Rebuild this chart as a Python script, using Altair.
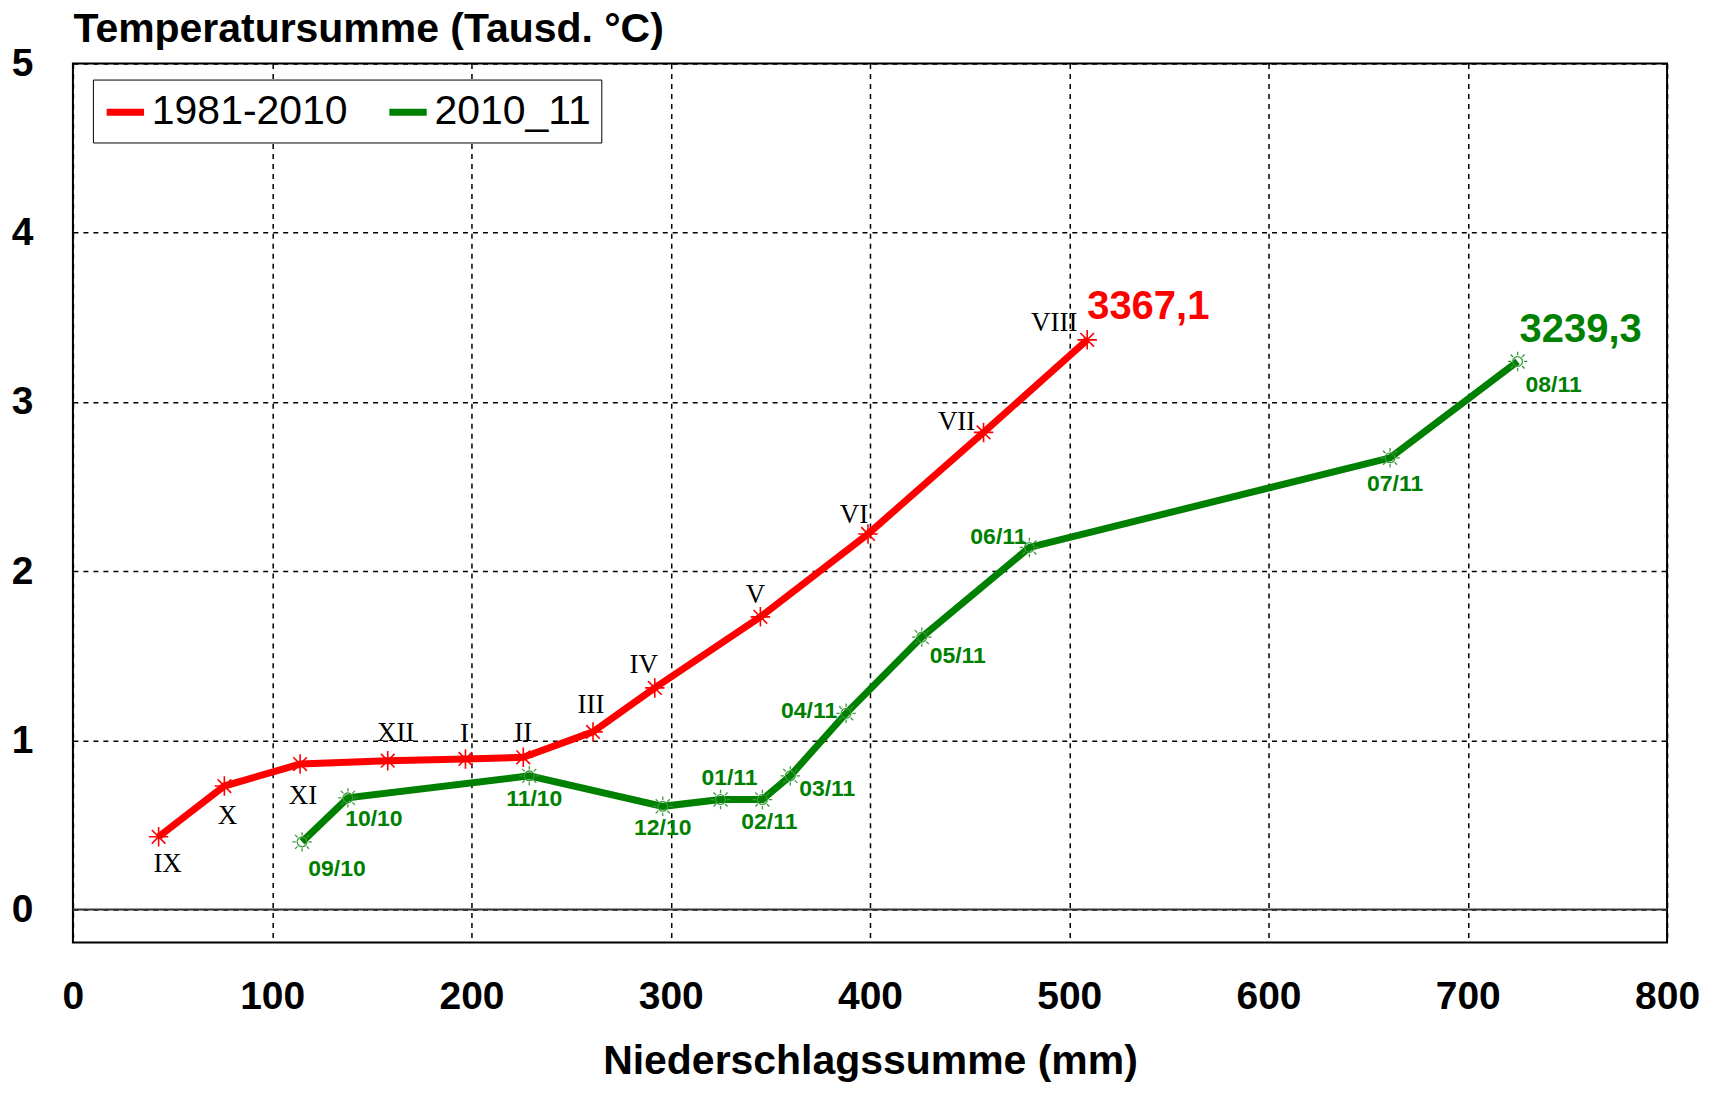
import altair as alt
import pandas as pd

# ---- data ----
months = ["IX", "X", "XI", "XII", "I", "II", "III", "IV", "V", "VI", "VII", "VIII"]
red_x = [43, 76, 114, 158, 197, 226, 261, 292, 345, 399, 457, 509]
red_y = [0.43, 0.73, 0.86, 0.88, 0.89, 0.90, 1.05, 1.31, 1.73, 2.22, 2.82, 3.3671]

periods = ["09/10", "10/10", "11/10", "12/10", "01/11", "02/11", "03/11", "04/11",
           "05/11", "06/11", "07/11", "08/11"]
green_x = [115, 138, 229, 296, 325, 346, 360, 388, 426, 480, 661, 725]
green_y = [0.40, 0.66, 0.79, 0.61, 0.65, 0.65, 0.79, 1.16, 1.61, 2.14, 2.67, 3.2393]

series_names = ["1981-2010", "2010_11"]
totals = ["3367,1", "3239,3"]
x_ticks = [0, 100, 200, 300, 400, 500, 600, 700, 800]
y_ticks = [0, 1, 2, 3, 4, 5]

# label offsets in pixels (layout only)
red_dx = [9, 3, 3, 8, -1, 0, -2, -11, -5, -14, -27, -33]
red_dy = [27, 30, 32, -28, -25, -24, -27, -23, -22, -19, -10, -17]
green_dx = [35, 26, 5, 0, 9, 7, 37, -37, 36, -31, 5, 36]
green_dy = [27, 21, 23, 22, -22, 22, 13, -2, 19, -10, 26, 24]
total_dx = [0, 2]
total_dy = [-33, -31]

RED = "#ff0000"
GREEN = "#008000"

red = pd.DataFrame({"x": red_x, "y": red_y, "label": months, "series": series_names[0]})
green = pd.DataFrame({"x": green_x, "y": green_y, "label": periods, "series": series_names[1]})
both = pd.concat([red, green], ignore_index=True)

xs = alt.Scale(domain=[0, 800], nice=False, zero=False)
ys = alt.Scale(domain=[-0.195, 5], nice=False, zero=False)
color = alt.Color("series:N", scale=alt.Scale(domain=series_names, range=[RED, GREEN]),
                  legend=alt.Legend(title=None, orient="none", legendX=20, legendY=16,
                                    direction="horizontal", symbolType="stroke",
                                    symbolStrokeWidth=7, symbolSize=1400,
                                    labelFontSize=41, labelFont="Liberation Sans",
                                    labelColor="black", strokeColor="black",
                                    fillColor="white", padding=10, columnPadding=26,
                                    labelOffset=4, cornerRadius=0, labelLimit=400))

xax = alt.Axis(values=x_ticks, grid=True, gridDash=[5, 5], gridColor="black", gridWidth=1.5,
               domain=False, ticks=False, labelPadding=35, labelFontSize=39, format="d",
               labelFont="Liberation Sans", labelFontWeight="bold", labelColor="black",
               title="Niederschlagssumme (mm)", titleFontSize=41, titleFont="Liberation Sans",
               titleFontWeight="bold", titleColor="black", titleX=798, titleY=119,
               titleAlign="center", titleBaseline="middle", labelFlush=False)
yax = alt.Axis(values=y_ticks, grid=True, gridDash=[5, 5], gridColor="black", gridWidth=1.5,
               domain=False, ticks=False, labelPadding=40, labelFontSize=39, format="d",
               labelFont="Liberation Sans", labelFontWeight="bold", labelColor="black",
               title="Temperatursumme (Tausd. °C)", titleFontSize=41,
               titleFont="Liberation Sans", titleFontWeight="bold", titleColor="black",
               titleAngle=0, titleX=0, titleY=-34, titleAlign="left", titleBaseline="middle")

zero = alt.Chart(pd.DataFrame({"y": [0]})).mark_rule(color="#333333", strokeWidth=2).encode(
    y=alt.Y("y:Q", scale=ys, axis=yax))

lines = alt.Chart(both).mark_line(strokeWidth=7).encode(
    x=alt.X("x:Q", scale=xs, axis=xax),
    y=alt.Y("y:Q", scale=ys, axis=yax),
    color=color,
    detail="series:N",
)

asterisk = "M-1,0L1,0M0,-1L0,1M-0.7,-0.7L0.7,0.7M-0.7,0.7L0.7,-0.7"
sun = ("M0.5,0A0.5,0.5 0 1,1 -0.5,0A0.5,0.5 0 1,1 0.5,0"
       "M0,-0.65L0,-1M0,0.65L0,1M0.65,0L1,0M-0.65,0L-1,0"
       "M0.46,0.46L0.72,0.72M-0.46,-0.46L-0.72,-0.72M0.46,-0.46L0.72,-0.72M-0.46,0.46L-0.72,0.72")

red_pts = alt.Chart(red).mark_point(shape=asterisk, filled=False, size=380, strokeWidth=1.6,
                                    color=RED, opacity=1).encode(
    x=alt.X("x:Q", scale=xs), y=alt.Y("y:Q", scale=ys))
green_pts = alt.Chart(green).mark_point(shape=sun, filled=False, size=380, strokeWidth=1.3,
                                        color="#3a9a3a", opacity=1).encode(
    x=alt.X("x:Q", scale=xs), y=alt.Y("y:Q", scale=ys))

layers = [zero, lines, red_pts, green_pts]

for i in range(len(months)):
    d = pd.DataFrame({"x": [red_x[i]], "y": [red_y[i]], "label": [months[i]]})
    layers.append(alt.Chart(d).mark_text(
        font="Liberation Serif", fontSize=27, color="black", baseline="middle",
        align="center", dx=red_dx[i], dy=red_dy[i]).encode(
        x=alt.X("x:Q", scale=xs), y=alt.Y("y:Q", scale=ys), text="label:N"))

for i in range(len(periods)):
    d = pd.DataFrame({"x": [green_x[i]], "y": [green_y[i]], "label": [periods[i]]})
    layers.append(alt.Chart(d).mark_text(
        font="Liberation Sans", fontSize=23, fontWeight="bold", color=GREEN,
        baseline="middle", align="center", dx=green_dx[i], dy=green_dy[i]).encode(
        x=alt.X("x:Q", scale=xs), y=alt.Y("y:Q", scale=ys), text="label:N"))

end_x = [red_x[-1], green_x[-1]]
end_y = [red_y[-1], green_y[-1]]
end_col = [RED, GREEN]
for i in range(2):
    d = pd.DataFrame({"x": [end_x[i]], "y": [end_y[i]], "label": [totals[i]]})
    layers.append(alt.Chart(d).mark_text(
        font="Liberation Sans", fontSize=40, fontWeight="bold", color=end_col[i],
        baseline="middle", align="left", dx=total_dx[i], dy=total_dy[i]).encode(
        x=alt.X("x:Q", scale=xs), y=alt.Y("y:Q", scale=ys), text="label:N"))

chart = alt.layer(*layers).properties(
    width=1596, height=880,
    autosize=alt.AutoSizeParams(type="none"),
    padding={"left": 65, "top": 55, "right": 44, "bottom": 142},
    background="white",
).configure_view(stroke="black", strokeWidth=2)

chart.save("out.html", embed_options={"renderer": "svg", "actions": False})
